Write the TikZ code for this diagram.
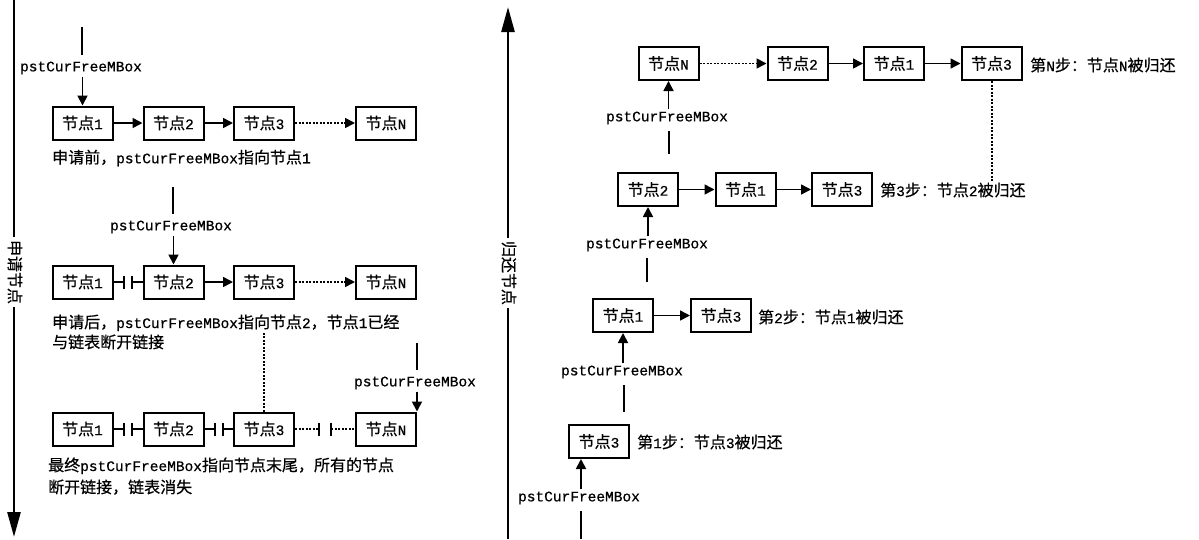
\documentclass[tikz,border=0pt]{standalone}
\usepackage{fontspec}
\setmainfont{Noto Sans CJK SC}[FakeBold=0.5]
\newfontfamily\monof{Liberation Mono}[FakeBold=0.5]
\usetikzlibrary{arrows.meta,calc}
\newcommand\mo[1]{{\monof\fontsize{14.5pt}{18pt}\selectfont #1}}
\newcommand\brk[4]{%
  \coordinate (bm) at ($(#2.east)!0.5!(#3.west)$);
  \draw[#1] (#2.east) -- ([xshift=-#4]bm) ([xshift=#4]bm) -- (#3.west);
  \draw[bar] ([xshift=-#4,yshift=6.5pt]bm) -- ([xshift=-#4,yshift=-6.5pt]bm)
             ([xshift=#4,yshift=6.5pt]bm) -- ([xshift=#4,yshift=-6.5pt]bm);}
\tikzset{
  box/.style={draw, line width=2pt, minimum width=60pt, minimum height=33pt, inner sep=0pt,
              font=\fontsize{16pt}{20pt}\selectfont},
  txt/.style={inner sep=0pt, font=\fontsize{16pt}{21pt}\selectfont, align=left},
  lbl/.style={inner sep=2pt, font=\monof\fontsize{14.5pt}{18pt}\selectfont},
  link/.style={line width=1.6pt, -{Triangle[length=10pt,width=10pt]}},
  dlink/.style={line width=1.6pt, dash pattern=on 2pt off 1.5pt, -{Triangle[length=10pt,width=10pt]}},
  solidseg/.style={line width=1.8pt},
  dotseg/.style={line width=1.6pt, dash pattern=on 2pt off 1.5pt},
  bar/.style={line width=1.8pt},
  ptr/.style={line width=1.8pt},
  parr/.style={line width=1.8pt, -{Triangle[length=10pt,width=10pt]}},
  vdot/.style={line width=2pt, dash pattern=on 2pt off 1.5pt},
  axis/.style={line width=2.6pt, -{Triangle[length=25pt,width=13pt]}},
  axlbl/.style={rotate=-90, fill=white, inner sep=3pt, font=\fontsize{16pt}{20pt}\selectfont},
}
\begin{document}
\begin{tikzpicture}[x=1pt,y=-1pt]
\useasboundingbox (0,0) rectangle (1199,539);

% ---------- left axis ----------
\coordinate (la1) at (14,0);
\coordinate (la2) at (14,537);
\draw[axis] (la1) -- (la2);
\node[axlbl] (lal) at (15,272) {申请节点};

% ---------- section 1 ----------
\node[box] (a1) at (82.5,123) {节点\mo{1}};
\node[box] (a2) at (173.5,123) {节点\mo{2}};
\node[box] (a3) at (264,123) {节点\mo{3}};
\node[box] (aN) at (386,123) {节点\mo{N}};
\draw[link] (a1) -- (a2);
\draw[link] (a2) -- (a3);
\draw[dlink] (a3) -- (aN);
\node[lbl] (pa) at (81,68) {pstCurFreeMBox};
\coordinate (ta) at (82,27);
\draw[ptr, shorten >=4pt] (ta) -- (ta |- pa.north);
\draw[parr] (pa.south -| a1.north) -- (a1.north);
\node[txt, anchor=west] (ca) at (52,158) {申请前，\mo{pstCurFreeMBox}指向节点\mo{1}};

% ---------- section 2 ----------
\node[box] (b1) at (82.5,282) {节点\mo{1}};
\node[box] (b2) at (173.5,282) {节点\mo{2}};
\node[box] (b3) at (264,282) {节点\mo{3}};
\node[box] (bN) at (386,282) {节点\mo{N}};
\brk{solidseg}{b1}{b2}{4pt}
\draw[link] (b2) -- (b3);
\draw[dlink] (b3) -- (bN);
\node[lbl] (pb) at (171,227) {pstCurFreeMBox};
\coordinate (tb) at (173,187);
\draw[ptr, shorten >=4pt] (tb) -- (tb |- pb.north);
\draw[parr] (pb.south -| b2.north) -- (b2.north);
\node[txt, anchor=base west, font=\fontsize{16pt}{20pt}\selectfont] (cb) at (52,348) {申请后，\mo{pstCurFreeMBox}指向节点\mo{2}，节点\mo{1}已经\\与链表断开链接};

% ---------- section 3 ----------
\node[box] (c1) at (82.5,429) {节点\mo{1}};
\node[box] (c2) at (173.5,429) {节点\mo{2}};
\node[box] (c3) at (264,429) {节点\mo{3}};
\node[box] (cN) at (386,429) {节点\mo{N}};
\brk{solidseg}{c1}{c2}{4pt}
\brk{solidseg}{c2}{c3}{4pt}
\brk{dotseg}{c3}{cN}{6pt}
\node[lbl] (pc) at (415,383) {pstCurFreeMBox};
\coordinate (tc) at (417,343);
\draw[ptr, shorten >=4pt] (tc) -- (tc |- pc.north);
\draw[parr] (cN.north east |- pc.south) -- (cN.north east);
\draw[vdot] (c3.north) -- ++(0,-80);
\node[txt, anchor=base west, font=\fontsize{16pt}{22pt}\selectfont] (cc) at (48,493) {最终\mo{pstCurFreeMBox}指向节点末尾，所有的节点\\断开链接，链表消失};

% ---------- right axis ----------
\coordinate (ra1) at (508,539);
\coordinate (ra2) at (508,7);
\draw[axis] (ra1) -- (ra2);
\node[axlbl] (ral) at (509,273) {归还节点};

% ---------- row 1 (step N) ----------
\node[box] (rN) at (668.5,63.5) {节点\mo{N}};
\node[box] (r12) at (797.5,63.5) {节点\mo{2}};
\node[box] (r11) at (894,63.5) {节点\mo{1}};
\node[box] (r13) at (991.5,63.5) {节点\mo{3}};
\draw[dlink] (rN) -- (r12);
\draw[link] (r12) -- (r11);
\draw[link] (r11) -- (r13);
\node[txt, anchor=west] (sN) at (1030,65) {第\mo{N}步：节点\mo{N}被归还};
\node[lbl] (q1) at (667,118) {pstCurFreeMBox};
\coordinate (u1) at (669,154);
\draw[parr] (q1.north -| rN.south) -- (rN.south);
\draw[ptr, shorten >=4pt] (u1) -- (u1 |- q1.south);

% ---------- row 2 (step 3) ----------
\node[box] (s2) at (648,189.5) {节点\mo{2}};
\node[box] (s1) at (745.5,189.5) {节点\mo{1}};
\node[box] (s3) at (842,189.5) {节点\mo{3}};
\draw[link] (s2) -- (s1);
\draw[link] (s1) -- (s3);
\node[txt, anchor=west] (st3) at (880,190) {第\mo{3}步：节点\mo{2}被归还};
\draw[vdot] (r13.south) -- (r13.south |- st3.north);
\node[lbl] (q2) at (647,245) {pstCurFreeMBox};
\coordinate (u2) at (647,282);
\draw[parr] (q2.north -| s2.south) -- (s2.south);
\draw[ptr, shorten >=4pt] (u2) -- (u2 |- q2.south);

% ---------- row 3 (step 2) ----------
\node[box] (t1) at (623,315.5) {节点\mo{1}};
\node[box] (t3) at (721,315.5) {节点\mo{3}};
\draw[link] (t1) -- (t3);
\node[txt, anchor=west] (st2) at (758,317) {第\mo{2}步：节点\mo{1}被归还};
\node[lbl] (q3) at (622,372) {pstCurFreeMBox};
\coordinate (u3) at (624,412);
\draw[parr] (q3.north -| t1.south) -- (t1.south);
\draw[ptr, shorten >=4pt] (u3) -- (u3 |- q3.south);

% ---------- row 4 (step 1) ----------
\node[box] (v3) at (599,441.5) {节点\mo{3}};
\node[txt, anchor=west] (st1) at (637,442) {第\mo{1}步：节点\mo{3}被归还};
\node[lbl] (q4) at (579,498) {pstCurFreeMBox};
\coordinate (u4) at (581,539);
\draw[parr] (u4 |- q4.north) -- (u4 |- v3.south);
\draw[ptr, shorten >=4pt] (u4) -- (u4 |- q4.south);
\end{tikzpicture}
\end{document}
